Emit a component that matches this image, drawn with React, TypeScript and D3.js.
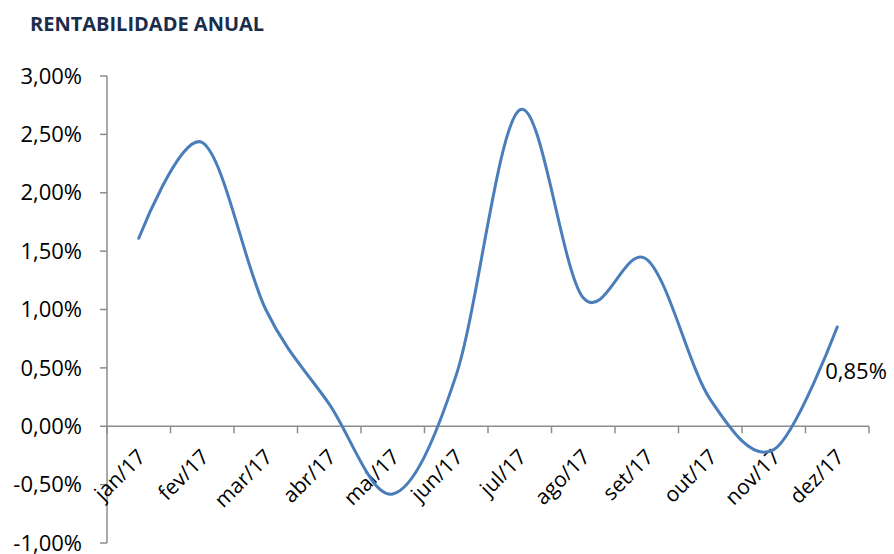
import React from "react";
import * as d3 from "d3";

const months = ["jan/17", "fev/17", "mar/17", "abr/17", "mai/17", "jun/17", "jul/17", "ago/17", "set/17", "out/17", "nov/17", "dez/17"];
const returns = [1.61, 2.43, 1.0, 0.19, -0.58, 0.44, 2.71, 1.1, 1.43, 0.23, -0.2, 0.85];
const yTicks = [3, 2.5, 2, 1.5, 1, 0.5, 0, -0.5, -1];

const W = 894;
const H = 554;
const left = 107;
const right = 869;
const top = 76;
const bottom = 543;
const font = "'Open Sans', Lato, sans-serif";

const fmt = (v: number) => v.toFixed(2).replace(".", ",") + "%";

export default function App() {
  const x = d3.scaleBand<string>().domain(months).range([left, right]);
  const y = d3.scaleLinear().domain([-1, 3]).range([bottom, top]);
  const line = d3
    .line<number>()
    .x((_, i) => x(months[i])! + x.bandwidth() / 2)
    .y((d) => y(d))
    .curve(d3.curveCatmullRom.alpha(0));

  const last = returns.length - 1;
  const lx = x(months[last])! + x.bandwidth() / 2;

  return (
    <svg width={W} height={H} style={{ position: "absolute", left: 0, top: 0, background: "#fff" }}>
      <text x={30} y={31} fontFamily={font} fontWeight="bold" fontSize={20} fill="#1b2d4c">
        RENTABILIDADE ANUAL
      </text>
      {/* y axis */}
      <line x1={left} x2={left} y1={top} y2={bottom} stroke="#8c8c8c" strokeWidth={1.5} />
      {yTicks.map((t) => (
        <g key={t}>
          <line x1={left - 7} x2={left} y1={y(t)} y2={y(t)} stroke="#8c8c8c" strokeWidth={1.5} />
          <text x={82} y={y(t)} dy="0.35em" textAnchor="end" fontFamily={font} fontSize={22} fill="#000">
            {fmt(t)}
          </text>
        </g>
      ))}
      {/* x axis at zero */}
      <line x1={left} x2={right} y1={y(0)} y2={y(0)} stroke="#8c8c8c" strokeWidth={1.5} />
      {[...months.map((m) => x(m)!), right].map((px, i) => (
        <line key={i} x1={px} x2={px} y1={y(0)} y2={y(0) + 7} stroke="#8c8c8c" strokeWidth={1.5} />
      ))}
      {months.map((m) => {
        const cx = x(m)! + x.bandwidth() / 2 + 8;
        const ty = y(0) + 32;
        return (
          <text key={m} x={cx} y={ty} textAnchor="end" fontFamily={font} fontSize={21} fill="#000"
            transform={`rotate(-45, ${cx}, ${ty})`}>
            {m}
          </text>
        );
      })}
      <path d={line(returns)!} fill="none" stroke="#4a7ebb" strokeWidth={3} strokeLinecap="round" />
      <text x={lx - 12} y={y(returns[last]) + 52} fontFamily={font} fontSize={22} fill="#000">
        {fmt(returns[last])}
      </text>
    </svg>
  );
}
